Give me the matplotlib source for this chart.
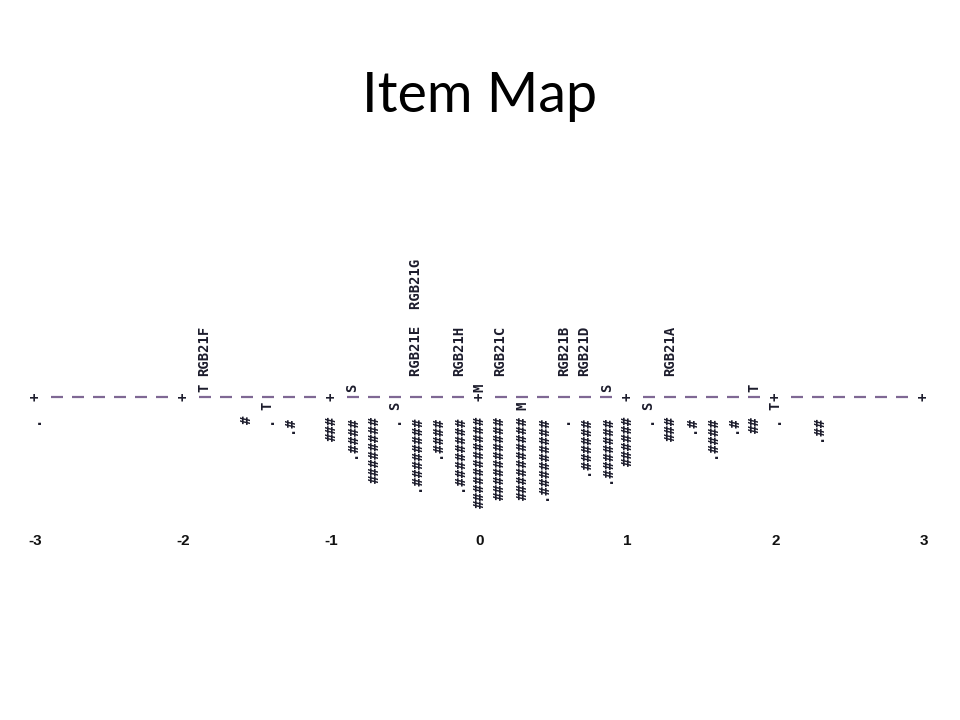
import matplotlib
matplotlib.use("Agg")
import matplotlib.pyplot as plt

# Person distribution (one column every 1/7 logit): '#' and '.' counts
person_logits = [-3.00, -1.57, -1.43, -1.29, -1.00, -0.86, -0.71, -0.57, -0.43, -0.29,
                 -0.14, 0.00, 0.14, 0.29, 0.43, 0.57, 0.71, 0.86, 1.00, 1.14,
                 1.29, 1.43, 1.57, 1.71, 1.86, 2.00, 2.29]
person_hashes = [0, 1, 0, 1, 3, 4, 8, 0, 8, 4, 8, 11, 10, 10, 9, 0, 6, 7, 6, 0, 3, 1, 4, 1, 2, 0, 2]
person_dots = [1, 0, 1, 1, 0, 1, 0, 1, 1, 1, 1, 0, 0, 0, 1, 1, 1, 1, 0, 1, 0, 1, 1, 1, 0, 1, 1]

# Items
item_names = ["RGB21F", "RGB21E", "RGB21G", "RGB21H", "RGB21C", "RGB21B", "RGB21D", "RGB21A"]
item_logits = [-1.86, -0.43, -0.43, -0.14, 0.14, 0.57, 0.71, 1.29]

# M / S / T markers
item_marks = ["T", "S", "M", "S", "T"]
item_mark_logits = [-1.86, -0.86, 0.00, 0.86, 1.86]
person_marks = ["T", "S", "M", "S", "T"]
person_mark_logits = [-1.43, -0.57, 0.29, 1.14, 2.00]

tick_values = [-3, -2, -1, 0, 1, 2, 3]
cols_per_logit = 7

MONO = "DejaVu Sans Mono"
AXIS_Y = 397      # pixel row of the ruler
ADV = 8.3         # character advance (pixels) of the rotated text
INK = "#1c1c2c"
DASH = "#7f6894"
txt = dict(rotation=90, family=MONO, fontsize=10, fontweight="bold", color=INK)

fig = plt.figure(figsize=(9.6, 7.2), dpi=100)
ax = fig.add_axes([0, 0, 1, 1])
px_per_logit = 148.0
ax.set_xlim(-3 - 35.5 / px_per_logit, 3 + 36.5 / px_per_logit)
ax.set_ylim(720, 0)
ax.axis("off")

# ruler: '+' on whole logits, short dashes in between
n_cols = (tick_values[-1] - tick_values[0]) * cols_per_logit
half = 6 / px_per_logit
for i in range(n_cols + 1):
    x = tick_values[0] + i / cols_per_logit
    if i % cols_per_logit == 0:
        ax.text(x, AXIS_Y, "+", ha="center", va="center", **txt)
    else:
        ax.plot([x - half, x + half], [AXIS_Y, AXIS_Y], color=DASH, lw=1.6,
                solid_capstyle="butt")

# item markers above the ruler, person markers below
for m, x in zip(item_marks, item_mark_logits):
    ax.text(x, AXIS_Y - ADV - 1, m, ha="center", va="center", **txt)
for m, x in zip(person_marks, person_mark_logits):
    ax.text(x, AXIS_Y + ADV + 1, m, ha="center", va="center", **txt)

# item labels, items at the same measure share a column
grouped = {}
for name, x in zip(item_names, item_logits):
    grouped.setdefault(x, []).append(name)
for x, names in grouped.items():
    ax.text(x, AXIS_Y - 2.5 * ADV, "  ".join(names), ha="center", va="bottom", **txt)

# person columns hang below the ruler
for x, h, d in zip(person_logits, person_hashes, person_dots):
    s = "." * d + "#" * h
    ax.text(x, AXIS_Y + 2.3 * ADV, s, ha="center", va="top", **txt)

# logit scale labels
for t in tick_values:
    ax.text(t, 541, str(t), ha="center", va="center", family="Liberation Sans",
            fontsize=11, fontweight="bold", color="#111111")

fig.text(0.5, 1 - 96 / 720, "Item Map", ha="center", va="center",
         fontsize=40, family="Lato", color="black")

fig.savefig("out.png", dpi=100)
